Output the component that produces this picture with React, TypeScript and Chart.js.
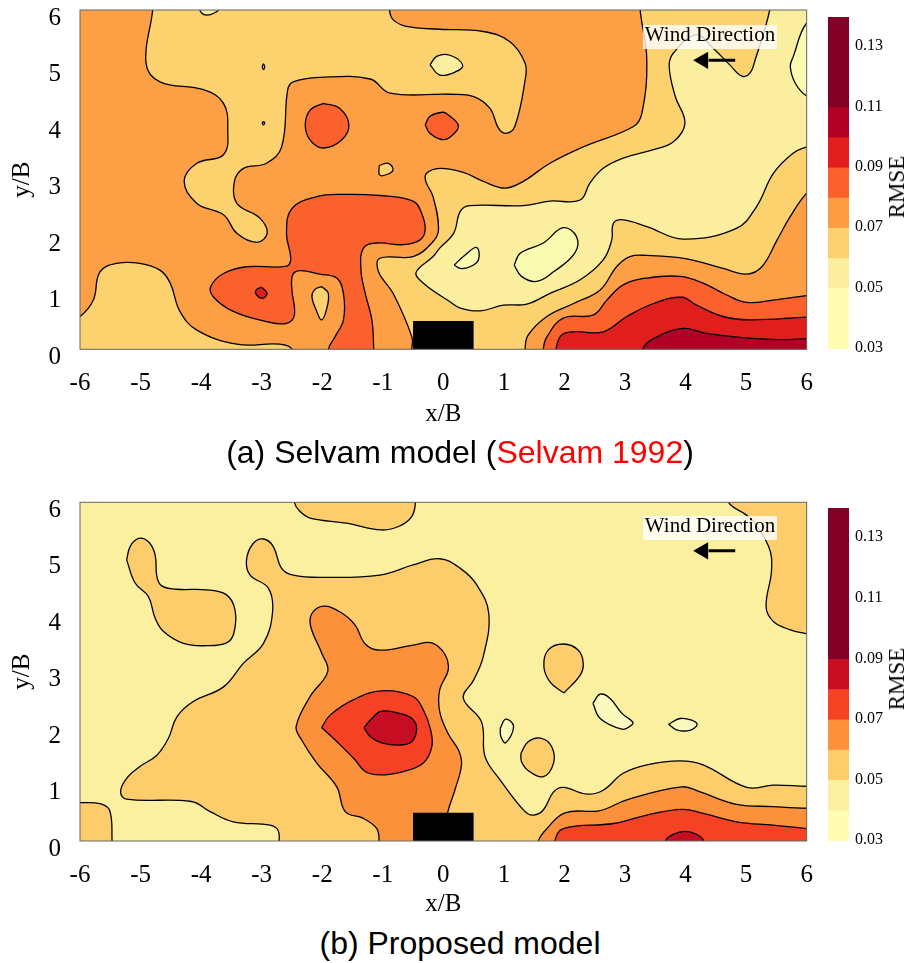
import React, { useEffect, useRef } from "react";
import { Chart, registerables } from "chart.js";

Chart.register(...registerables);

type P = [number, number];

const xTicks = [-6, -5, -4, -3, -2, -1, 0, 1, 2, 3, 4, 5, 6];
const barTicks = [0.03, 0.05, 0.07, 0.09, 0.11, 0.13];

// shared
const plotCover: P[] = [[-7, -1], [7, -1], [7, 7], [-7, 7]];
const building: P[] = [[-0.5, -0.3], [-0.5, 0.5], [0.5, 0.5], [0.5, -0.3]];
const arrowShaft: P[] = [[4.82, 0], [4.38, 0]];

// panel (a) contours
const aUpperL: P[] = [[-4.8, 6.3], [-4.8, 6], [-4.91, 5.06], [-4.68, 4.73], [-3.96, 4.59], [-3.63, 4.35], [-3.56, 3.88], [-3.63, 3.44], [-4.07, 3.29], [-4.28, 2.97], [-4.07, 2.58], [-3.63, 2.38], [-3.41, 2.05], [-3.08, 1.89], [-2.91, 2.05], [-3.03, 2.32], [-3.41, 2.58], [-3.45, 2.97], [-3.3, 3.2], [-2.92, 3.29], [-2.67, 3.58], [-2.57, 4.59], [-2.48, 4.73], [-2.04, 4.81], [-1.21, 4.78], [-0.88, 4.53], [0.11, 4.51], [0.5, 4.47], [0.77, 4.26], [0.91, 3.91], [1.03, 3.82], [1.18, 3.94], [1.35, 4.76], [1.35, 5.06], [1.1, 5.44], [0.66, 5.62], [-0.06, 5.66], [-0.61, 5.71], [-0.83, 5.83], [-0.89, 6], [-0.89, 6.3]];
const aRightL: P[] = [[3.25, 6.3], [3.25, 6], [3.36, 5.12], [3.28, 4.18], [3.14, 3.94], [2.31, 3.58], [1.76, 3.29], [1.32, 2.97], [1.02, 2.85], [0.66, 2.97], [0.33, 3.13], [-0.06, 3.2], [-0.28, 3.11], [-0.29, 2.97], [-0.17, 2.7], [-0.08, 2.11], [-0.19, 1.88], [-0.5, 1.64], [-1.05, 1.61], [-1.07, 1.37], [-0.83, 0.99], [-0.52, 0.22], [-0.52, 0], [-0.52, -0.3], [6.3, -0.3], [6.3, 6.3]];
const aMainW: P[] = [[5.39, 6.3], [5.39, 6], [5.15, 5.12], [5.06, 4.88], [4.93, 4.83], [4.73, 5.03], [4.46, 5.32], [4.18, 5.56], [3.8, 5.24], [3.73, 5], [3.83, 4.47], [3.99, 4], [3.8, 3.67], [3.47, 3.53], [2.97, 3.38], [2.64, 3.2], [2.42, 2.94], [2.26, 2.64], [1.76, 2.62], [1.32, 2.54], [0.44, 2.54], [0.28, 2.44], [0.17, 2.05], [-0.06, 1.79], [-0.17, 1.64], [-0.45, 1.36], [-0.33, 1.17], [0.11, 0.84], [0.28, 0.73], [0.61, 0.68], [0.99, 0.78], [1.38, 0.8], [1.76, 0.99], [2.26, 1.23], [2.64, 1.58], [2.78, 1.93], [2.81, 2.23], [2.97, 2.29], [3.36, 2.17], [3.96, 1.95], [4.84, 2.14], [5.17, 2.52], [5.45, 3.11], [5.78, 3.47], [6, 3.58], [6.3, 3.7], [6.3, 6.3]];
const aEdgeY: P[] = [[6.3, 5.9], [6, 5.77], [5.78, 5.18], [5.73, 5], [5.81, 4.71], [6, 4.48], [6.3, 4.4]];
const aLowO: P[] = [[1.35, -0.3], [1.35, 0], [1.4, 0.25], [1.71, 0.58], [2.15, 0.81], [2.59, 1.05], [2.86, 1.46], [3.08, 1.64], [3.36, 1.66], [4.02, 1.6], [4.62, 1.43], [5.01, 1.33], [5.26, 1.46], [5.51, 1.93], [5.73, 2.35], [6, 2.76], [6.3, 3], [6.3, -0.3]];
const aLowR: P[] = [[1.65, -0.3], [1.65, 0], [1.71, 0.22], [1.98, 0.55], [2.48, 0.61], [2.7, 0.87], [2.97, 1.14], [3.36, 1.26], [3.91, 1.29], [4.29, 1.17], [4.68, 0.96], [5.01, 0.83], [5.45, 0.87], [6, 0.95], [6.3, 0.97], [6.3, -0.3]];
const aLowD: P[] = [[1.86, -0.3], [1.86, 0], [1.95, 0.25], [2.15, 0.31], [2.64, 0.31], [3.03, 0.58], [3.47, 0.81], [3.94, 0.92], [4.18, 0.78], [4.62, 0.58], [5.06, 0.52], [6, 0.57], [6.3, 0.58], [6.3, -0.3]];
const aLowB: P[] = [[3.29, -0.3], [3.29, 0], [3.47, 0.19], [3.96, 0.37], [4.35, 0.28], [4.9, 0.21], [5.56, 0.17], [6, 0.19], [6.3, 0.2], [6.3, -0.3]];
const aCornerL: P[] = [[-6.3, 0.45], [-6, 0.58], [-5.78, 0.87], [-5.67, 1.37], [-5.39, 1.52], [-5.01, 1.52], [-4.68, 1.4], [-4.51, 1.17], [-4.35, 0.67], [-4.07, 0.34], [-3.41, 0.09], [-2.7, 0.09], [-2.5, 0], [-2.5, -0.3], [-6.3, -0.3]];
const aTeeR: P[] = [[-1.9, -0.3], [-1.9, 0], [-1.79, 0.22], [-1.65, 0.52], [-1.65, 0.99], [-1.76, 1.26], [-2.04, 1.33], [-2.37, 1.39], [-2.49, 1.31], [-2.5, 1.05], [-2.46, 0.61], [-2.59, 0.46], [-2.92, 0.49], [-3.47, 0.67], [-3.8, 0.93], [-3.84, 1.11], [-3.63, 1.34], [-3.25, 1.46], [-2.59, 1.47], [-2.52, 1.61], [-2.59, 2.05], [-2.5, 2.49], [-2.09, 2.7], [-1.65, 2.74], [-1.05, 2.72], [-0.5, 2.62], [-0.36, 2.41], [-0.3, 2.11], [-0.39, 1.93], [-0.66, 1.85], [-1.1, 1.88], [-1.32, 1.79], [-1.36, 1.4], [-1.29, 0.99], [-1.18, 0.52], [-1.15, 0], [-1.15, -0.3]];
const aIslandL: P[] = [[-2.01, 1.11], [-1.9, 0.99], [-1.93, 0.7], [-2.01, 0.52], [-2.09, 0.67], [-2.17, 0.93], [-2.12, 1.06]];
const aDotD: P[] = [[-3, 1.1], [-2.91, 0.99], [-2.99, 0.9], [-3.1, 0.99], [-3.08, 1.06]];
const aCircleR: P[] = [[-1.98, 4.35], [-1.71, 4.26], [-1.56, 3.97], [-1.68, 3.7], [-1.98, 3.56], [-2.2, 3.7], [-2.28, 3.97], [-2.2, 4.23]];
const aSpotR: P[] = [[-0.3, 3.97], [-0.22, 4.12], [-0.03, 4.19], [0.05, 4.17], [0.25, 3.95], [0.11, 3.75], [-0.03, 3.71], [-0.22, 3.82]];
const aSmallL: P[] = [[-1.06, 3.25], [-0.91, 3.29], [-0.83, 3.18], [-0.91, 3.1], [-1.05, 3.08]];
const aSpeck1: P[] = [[-2.97, 5.05], [-2.95, 5], [-2.97, 4.95], [-2.99, 5]];
const aSpeck2: P[] = [[-2.97, 4.03], [-2.95, 4], [-2.97, 3.97], [-2.99, 4]];
const aTopW: P[] = [[-4.02, 6.3], [-4.02, 6], [-3.91, 5.91], [-3.74, 5.97], [-3.72, 6], [-3.72, 6.3]];
const aOvalW: P[] = [[-0.22, 5.03], [-0.11, 5.18], [0.11, 5.2], [0.32, 5.02], [0.19, 4.9], [-0.06, 4.85]];
const aSlimY: P[] = [[0.18, 1.49], [0.33, 1.64], [0.55, 1.8], [0.58, 1.58], [0.44, 1.46], [0.28, 1.43]];
const aLongY: P[] = [[1.17, 1.49], [1.27, 1.7], [1.65, 1.88], [1.98, 2.15], [2.2, 1.99], [2.17, 1.7], [1.82, 1.37], [1.54, 1.2], [1.29, 1.29]];

// panel (b) contours
const bMainL: P[] = [[-2.71, -0.3], [-2.71, 0], [-2.73, 0.19], [-2.86, 0.28], [-3.47, 0.34], [-3.85, 0.52], [-4.16, 0.7], [-5.23, 0.74], [-5.33, 0.87], [-5.23, 1.11], [-5.01, 1.32], [-4.73, 1.52], [-4.54, 1.82], [-4.4, 2.2], [-4.13, 2.47], [-3.63, 2.73], [-3.3, 3.15], [-2.97, 3.5], [-2.82, 4.06], [-2.89, 4.48], [-3.19, 4.71], [-3.25, 4.98], [-3.14, 5.27], [-2.97, 5.35], [-2.81, 5.22], [-2.67, 4.83], [-2.48, 4.71], [-1.98, 4.67], [-1.05, 4.71], [-0.5, 4.89], [-0.06, 5], [0.28, 4.83], [0.55, 4.54], [0.75, 4.03], [0.66, 3.27], [0.5, 2.85], [0.33, 2.53], [0.63, 2.11], [0.69, 1.49], [0.94, 1.08], [1.35, 0.52], [1.49, 0.46], [1.65, 0.55], [1.82, 0.87], [1.98, 0.95], [2.37, 0.83], [2.64, 0.9], [2.97, 1.2], [3.36, 1.35], [3.91, 1.42], [4.29, 1.35], [5.01, 0.95], [5.45, 0.99], [6, 0.97], [6.3, 0.97], [6.3, -0.3]];
const bLowO: P[] = [[1.57, -0.3], [1.57, 0], [1.71, 0.22], [2.01, 0.5], [2.59, 0.54], [3.03, 0.73], [3.94, 0.96], [4.24, 0.87], [4.84, 0.65], [5.45, 0.61], [6, 0.58], [6.3, 0.58], [6.3, -0.3]];
const bLowR: P[] = [[1.84, -0.3], [1.84, 0], [1.98, 0.22], [2.81, 0.31], [3.36, 0.46], [3.94, 0.56], [4.29, 0.49], [4.84, 0.34], [5.45, 0.28], [6, 0.22], [6.3, 0.2], [6.3, -0.3]];
const bLowC: P[] = [[3.67, -0.3], [3.67, 0], [3.8, 0.12], [3.99, 0.17], [4.18, 0.12], [4.3, 0], [4.3, -0.3]];
const bCoreO: P[] = [[-1.06, -0.3], [-1.06, 0], [-1.1, 0.22], [-1.32, 0.4], [-1.62, 0.52], [-1.76, 0.96], [-2.09, 1.38], [-2.34, 1.79], [-2.43, 2.03], [-2.2, 2.56], [-1.91, 3], [-2.01, 3.33], [-2.19, 3.8], [-2.17, 4.03], [-1.98, 4.16], [-1.71, 4.06], [-1.46, 3.83], [-1.29, 3.49], [-1.05, 3.38], [-0.5, 3.47], [-0.19, 3.51], [0.03, 3.3], [0.08, 3.03], [-0.06, 2.68], [-0.06, 2.29], [0.08, 1.9], [0.25, 1.61], [0.3, 1.35], [0.19, 0.9], [0.07, 0.5], [0, 0], [0, -0.3]];
const bCoreR: P[] = [[-2.01, 2.01], [-1.87, 2.23], [-1.49, 2.5], [-1.02, 2.66], [-0.5, 2.56], [-0.33, 2.32], [-0.21, 1.97], [-0.19, 1.67], [-0.33, 1.38], [-0.66, 1.23], [-1.05, 1.17], [-1.29, 1.23], [-1.46, 1.44], [-1.73, 1.73]];
const bCoreC: P[] = [[-1.31, 2.01], [-1.18, 2.17], [-1.02, 2.3], [-0.72, 2.26], [-0.52, 2.17], [-0.44, 2], [-0.52, 1.76], [-0.72, 1.7], [-1.02, 1.74], [-1.21, 1.85]];
const bTopL: P[] = [[-2.46, 6.3], [-2.46, 6], [-2.37, 5.84], [-2.2, 5.72], [-1.6, 5.63], [-1.02, 5.51], [-0.72, 5.58], [-0.52, 5.75], [-0.46, 6], [-0.46, 6.3]];
const bBlobL: P[] = [[-5.23, 4.98], [-5.17, 5.22], [-5.03, 5.36], [-4.87, 5.3], [-4.76, 5.07], [-4.73, 4.68], [-4.65, 4.52], [-4.4, 4.46], [-3.91, 4.45], [-3.58, 4.36], [-3.44, 4.09], [-3.46, 3.68], [-3.58, 3.51], [-3.91, 3.46], [-4.29, 3.5], [-4.62, 3.71], [-4.76, 3.95], [-4.87, 4.33], [-5.09, 4.57]];
const bCornerL: P[] = [[-6.3, 0.68], [-6, 0.68], [-5.67, 0.66], [-5.51, 0.54], [-5.47, 0], [-5.47, -0.3], [-6.3, -0.3]];
const bRightL: P[] = [[4.71, 6.3], [4.71, 6], [5.06, 5.72], [5.37, 5.22], [5.42, 4.8], [5.33, 4.15], [5.45, 3.89], [5.73, 3.74], [6, 3.67], [6.3, 3.6], [6.3, 6.3]];
const bDropL: P[] = [[1.99, 2.62], [1.76, 2.82], [1.66, 3.09], [1.73, 3.38], [1.98, 3.49], [2.23, 3.38], [2.31, 3.15], [2.26, 2.94]];
const bRoundL: P[] = [[1.28, 1.55], [1.4, 1.76], [1.62, 1.82], [1.79, 1.67], [1.82, 1.38], [1.65, 1.14], [1.4, 1.25], [1.29, 1.41]];
const bSmallY: P[] = [[0.94, 2], [1.03, 2.16], [1.16, 2.03], [1.03, 1.74], [0.95, 1.85]];
const bLongY: P[] = [[2.47, 2.44], [2.59, 2.6], [2.75, 2.53], [2.95, 2.26], [3.13, 2.1], [3.08, 2.03], [2.95, 1.98], [2.59, 2.17]];
const bFlatY: P[] = [[3.72, 2.07], [3.91, 2.17], [4.1, 2.14], [4.19, 2.06], [4.07, 1.96], [3.85, 1.97]];

// colour bar bands
const aBandEdges = [0.03, 0.05, 0.06, 0.07, 0.08, 0.09, 0.1, 0.11, 0.14];
const aBandColors = ["#FFFDB4", "#FBEE9F", "#FCD06E", "#FD9D43", "#FB612C", "#E31E1E", "#B10026", "#800026"];
const bBandEdges = [0.03, 0.04, 0.05, 0.06, 0.07, 0.08, 0.09, 0.14];
const bBandColors = ["#FFFDB4", "#FBF0A0", "#FCCD6A", "#FD913C", "#F54124", "#C70D22", "#800026"];

const aC = { Y: "#FAFAB0", W: "#FBEE9F", L: "#FBD26E", O: "#FD9F44", R: "#FB612C", D: "#E01E1E", B: "#B10026" };
const bC = { Y: "#FBFABE", W: "#FAF0A0", L: "#FCCD6A", O: "#FC913C", R: "#F54124", C: "#C70D22" };

const SERIF = "'Liberation Serif', serif";

function contour(points: P[], color: string, line = true) {
  const closed = [...points, points[0]];
  return {
    data: closed.map(([x, y]) => ({ x, y })),
    backgroundColor: color,
    borderColor: "#000",
    borderWidth: line ? 1.3 : 0,
    fill: "shape",
    showLine: true,
    tension: 0.4,
    pointRadius: 0,
    clip: 0,
  };
}

const framePlugin = {
  id: "frame",
  afterDraw(chart: any) {
    const { ctx, chartArea: a } = chart;
    ctx.save();
    ctx.strokeStyle = "#666";
    ctx.lineWidth = 1;
    ctx.strokeRect(a.left, a.top, a.right - a.left, a.bottom - a.top);
    ctx.restore();
  },
};

function makeContourChart(canvas: HTMLCanvasElement, layers: any[], arrowY: number, top: number, bottomGap: number) {
  const shaft = {
    data: arrowShaft.map(([x, y]) => ({ x, y: y + arrowY })),
    showLine: true,
    borderColor: "#000",
    borderWidth: 3,
    pointRadius: 0,
    fill: false,
  };
  const head = {
    data: [{ x: 4.29, y: arrowY }],
    showLine: false,
    pointStyle: "triangle",
    pointRadius: 10,
    pointRotation: -90,
    backgroundColor: "#000",
    borderColor: "#000",
    borderWidth: 0,
  };
  const block = { ...contour(building, "#000", false), tension: 0 };
  const ordered = [head, shaft, block, ...[...layers].reverse()];
  return new Chart(canvas, {
    type: "scatter",
    data: { datasets: ordered as any },
    plugins: [framePlugin],
    options: {
      responsive: false,
      animation: false,
      layout: { padding: { top, right: 102.33, left: 0, bottom: 0 } },
      elements: { line: { capBezierPoints: false } },
      plugins: { legend: { display: false }, tooltip: { enabled: false } },
      scales: {
        x: {
          type: "linear",
          min: -6,
          max: 6,
          afterFit: (s: any) => { s.height = bottomGap; s.paddingLeft = 0; s.paddingRight = 0; },
          afterBuildTicks: (s: any) => { s.ticks = xTicks.map((value) => ({ value })); },
          grid: { display: false, drawTicks: false },
          border: { display: false },
          ticks: { color: "#000", padding: 19, maxRotation: 0, autoSkip: false, font: { family: SERIF, size: 25 } },
          title: { display: true, text: "x/B", color: "#000", padding: { top: 0, bottom: 1 }, font: { family: SERIF, size: 25 } },
        },
        y: {
          type: "linear",
          min: 0,
          max: 6,
          afterFit: (s: any) => { s.width = 80; s.paddingTop = 0; s.paddingBottom = 0; },
          grid: { display: false, drawTicks: false },
          border: { display: false },
          ticks: { color: "#000", stepSize: 1, padding: 19, labelOffset: 8, font: { family: SERIF, size: 25 } },
          title: { display: true, text: "y/B", color: "#000", padding: { top: 7, bottom: 0 }, font: { family: SERIF, size: 25 } },
        },
      },
    } as any,
  });
}

function makeBar(canvas: HTMLCanvasElement, edges: number[], colors: string[], top: number, bottom: number) {
  return new Chart(canvas, {
    type: "bar",
    data: {
      labels: ["RMSE"],
      datasets: colors.map((c, i) => ({
        data: [[edges[i], edges[i + 1]]],
        backgroundColor: c,
        borderWidth: 0,
        barPercentage: 1,
        categoryPercentage: 1,
      })) as any,
    },
    options: {
      responsive: false,
      animation: false,
      layout: { padding: { top, bottom, left: 0, right: 0 } },
      plugins: { legend: { display: false }, tooltip: { enabled: false } },
      scales: {
        x: { stacked: true, display: false },
        y: {
          position: "right",
          min: 0.03,
          max: 0.14,
          afterFit: (s: any) => { s.width = 60; s.paddingTop = 0; s.paddingBottom = 0; },
          afterBuildTicks: (s: any) => { s.ticks = barTicks.map((value) => ({ value })); },
          grid: { display: false, drawTicks: false },
          border: { display: false },
          ticks: {
            color: "#000",
            padding: 6,
            labelOffset: -1,
            font: { family: SERIF, size: 16 },
            callback: (v: any) => Number(v).toFixed(2),
          },
        },
      },
    } as any,
  });
}

const abs = (o: React.CSSProperties): React.CSSProperties => ({ position: "absolute", ...o });

function Caption({ top, children }: { top: number; children: React.ReactNode }) {
  return (
    <div style={abs({ left: 0, width: 920, top, textAlign: "center", fontFamily: "'Liberation Sans', Arial, sans-serif", fontSize: 32, lineHeight: "36px", whiteSpace: "nowrap", color: "#000" })}>
      {children}
    </div>
  );
}

function WindBox({ top }: { top: number }) {
  return (
    <div style={abs({ left: 643, width: 134, top, height: 24, background: "rgba(255,255,255,0.8)", fontFamily: SERIF, fontSize: 21, lineHeight: "18px", textAlign: "center", whiteSpace: "nowrap", color: "#000" })}>
      Wind Direction
    </div>
  );
}

function BarTitle({ cy }: { cy: number }) {
  return (
    <div style={abs({ left: 897, top: cy, fontFamily: SERIF, fontSize: 23, lineHeight: "26px", transform: "translate(-50%,-50%) rotate(-90deg)", color: "#000" })}>
      RMSE
    </div>
  );
}

export default function App() {
  const r1 = useRef<HTMLCanvasElement>(null);
  const r2 = useRef<HTMLCanvasElement>(null);
  const r3 = useRef<HTMLCanvasElement>(null);
  const r4 = useRef<HTMLCanvasElement>(null);

  useEffect(() => {
    const aLayers = [
      contour(plotCover, aC.O, false),
      contour(aRightL, aC.L),
      contour(aMainW, aC.W),
      contour(aEdgeY, aC.Y),
      contour(aLowO, aC.O),
      contour(aLowR, aC.R),
      contour(aLowD, aC.D),
      contour(aLowB, aC.B),
      contour(aCornerL, aC.L),
      contour(aUpperL, aC.L),
      contour(aTeeR, aC.R),
      contour(aIslandL, aC.L),
      contour(aDotD, aC.D),
      contour(aCircleR, aC.R),
      contour(aSpotR, aC.R),
      contour(aSmallL, aC.L),
      contour(aSpeck1, aC.O),
      contour(aSpeck2, aC.O),
      contour(aTopW, aC.W),
      contour(aOvalW, aC.W),
      contour(aSlimY, aC.Y),
      contour(aLongY, aC.Y),
    ];
    const bLayers = [
      contour(plotCover, bC.W, false),
      contour(bMainL, bC.L),
      contour(bLowO, bC.O),
      contour(bLowR, bC.R),
      contour(bLowC, bC.C),
      contour(bCoreO, bC.O),
      contour(bCoreR, bC.R),
      contour(bCoreC, bC.C),
      contour(bTopL, bC.L),
      contour(bBlobL, bC.L),
      contour(bCornerL, bC.L),
      contour(bRightL, bC.L),
      contour(bDropL, bC.L),
      contour(bRoundL, bC.L),
      contour(bSmallY, bC.Y),
      contour(bLongY, bC.Y),
      contour(bFlatY, bC.Y),
    ];
    const charts = [
      makeContourChart(r1.current!, aLayers, 5.11, 10, 80.7),
      makeContourChart(r2.current!, bLayers, 5.14, 12.3, 79),
      makeBar(r3.current!, aBandEdges, aBandColors, 17, 31),
      makeBar(r4.current!, bBandEdges, bBandColors, 18, 29),
    ];
    return () => charts.forEach((c) => c.destroy());
  }, []);

  return (
    <div style={abs({ left: 0, top: 0, width: 909, height: 963, overflow: "hidden", background: "#fff" })}>
      <canvas ref={r1} width={909} height={430} style={abs({ left: 0, top: 0 })} />
      <canvas ref={r2} width={909} height={430} style={abs({ left: 0, top: 490 })} />
      <canvas ref={r3} width={81} height={380} style={abs({ left: 828, top: 0 })} />
      <canvas ref={r4} width={81} height={380} style={abs({ left: 828, top: 490 })} />
      <WindBox top={25} />
      <WindBox top={516} />
      <BarTitle cy={187} />
      <BarTitle cy={679} />
      <Caption top={434}>
        (a) Selvam model (<span style={{ color: "#f00" }}>Selvam 1992</span>)
      </Caption>
      <Caption top={925}>(b) Proposed model</Caption>
    </div>
  );
}
